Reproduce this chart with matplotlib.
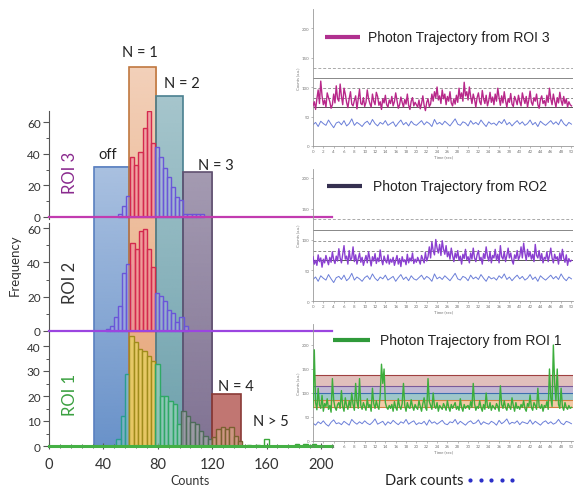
import numpy as np
import matplotlib
matplotlib.use('Agg')
import matplotlib.pyplot as plt
from matplotlib.lines import Line2D
from matplotlib.patches import Rectangle
from matplotlib.colors import to_rgb

plt.rcParams['font.family'] = ['Lato', 'DejaVu Sans']

# ---------------- data ----------------
band_labels = ['off', 'N = 1', 'N = 2', 'N = 3', 'N = 4']
band_edges = [33, 58.5, 79, 98.5, 120, 141]          # counts
band_tops_roi3 = [31.6, 94.7, 76.4, 28.4]             # box heights (ROI 3 frequency units)
n4_top_roi1 = 21                                      # box height (ROI 1 frequency units)

roi3_start, roi3_width = 50.8, 3.0
roi3_freq = [2, 7, 13.5, 38, 33, 41, 56, 67, 47, 44, 38, 31, 25, 19, 12.5, 11, 2, 2, 2, 2, 2]
roi2_start, roi2_width = 41.9, 3.0
roi2_freq = [1, 3, 8, 14.5, 34, 39, 51.5, 47.5, 58, 59.5, 47.5, 37, 22, 20.5, 17.5, 12.5,
             10.5, 5, 8, 3]
roi1_start, roi1_width = 49.4, 3.2
roi1_freq = [3, 12, 29, 44, 41.5, 39, 38, 36, 34, 33, 20, 20, 18, 17, 9, 14, 12, 9.5, 9, 6,
             4, 3, 3.5, 7, 7.5, 7, 7.5, 4, 2, 0, 0.5, 0, 0.5, 0, 3, 0, 0, 0, 0, 0, 0, 1, 0,
             1, 0, 1, 0, 0]

x_ticks = [0, 40, 80, 120, 160, 200]

# trajectories (signal sampled every 0.25 s, dark counts every 0.5 s)
roi3_traj = [68,75,62,80,95,72,110,85,70,78,66,90,82,75,64,70,88,73,102,80,
             76,105,84,70,98,88,74,65,80,92,71,68,77,85,63,79,96,72,70,82,
             67,74,95,80,72,66,88,76,70,91,84,69,75,62,80,73,86,70,66,78,
             72,84,68,75,90,77,64,70,83,74,66,79,71,88,69,62,76,82,68,74,
             70,66,78,63,72,85,69,60,74,80,67,71,88,76,92,82,100,78,85,72,
             95,80,88,70,84,76,92,73,68,80,71,86,74,98,81,90,76,108,85,92,
             78,100,84,72,88,79,66,82,90,75,70,94,80,72,86,68,77,91,74,83,
             70,88,76,98,82,69,85,73,92,77,66,80,74,89,71,67,84,78,70,86,
             75,68,90,80,72,84,66,78,93,74,69,82,76,88,70,64,79,85,72,77,
             68,86,74,98,80,70,88,76,66,82,73,91,77,69,84,72,80,66,75,70,
             68]
roi3_dark = [36,40,33,42,38,35,44,37,31,39,41,36,43,34,38,46,35,40,37,33,
             39,42,36,45,38,34,40,37,43,35,38,41,33,39,44,36,40,34,42,37,
             35,39,43,36,41,38,33,45,37,40,36,42,38,34,40,46,37,35,41,39,
             34,43,37,40,36,44,38,33,41,37,39,35,42,38,45,36,40,34,39,43,
             37,41,35,38,44,36,40,33,42,38,35,39,43,37,41,36,45,38,34,40,
             37]
roi2_traj = [72,60,66,58,75,64,70,55,68,62,74,66,59,71,63,80,67,61,73,65,
             85,70,62,76,90,68,73,60,82,66,70,88,64,75,60,69,78,63,71,58,
             66,74,62,80,68,57,72,65,77,61,70,64,83,67,59,73,66,62,75,60,
             68,63,71,58,66,74,60,69,56,72,64,67,59,76,62,70,65,78,61,68,
             63,71,66,60,74,68,62,79,65,72,88,70,96,82,75,100,86,78,92,74,
             98,84,76,90,72,80,68,86,74,64,78,70,82,66,73,60,76,69,84,67,
             72,62,78,68,86,70,64,75,82,66,71,60,77,69,88,73,65,80,62,74,
             70,84,66,76,62,90,72,68,80,64,74,86,70,78,66,60,75,69,82,67,
             73,88,70,94,78,66,84,72,80,68,76,64,92,74,70,82,66,77,62,71,
             68,80,64,74,86,70,62,76,68,72,60,78,66,84,70,63,75,58,69,64,
             66]
roi2_dark = [35,39,32,41,37,34,43,36,30,38,40,35,42,33,37,45,34,39,36,32,
             38,41,35,44,37,33,39,36,42,34,37,40,32,38,43,35,39,33,41,36,
             34,38,42,35,40,37,32,44,36,39,35,41,37,33,39,45,36,34,40,38,
             33,42,36,39,35,43,37,32,40,36,38,34,41,37,44,35,39,33,38,42,
             36,40,34,37,43,35,39,32,41,37,34,38,42,36,40,35,44,37,33,39,
             36]
roi1_traj = [70,190,80,65,110,75,68,95,62,78,72,88,66,74,60,130,85,70,64,76,
             80,68,105,72,62,90,74,66,84,70,100,76,64,120,82,68,130,74,66,80,
             72,64,88,70,76,62,110,78,68,84,72,66,95,160,120,150,80,70,66,74,
             68,76,62,82,70,64,88,72,66,78,120,74,62,80,70,68,86,72,64,76,
             70,66,84,72,62,78,90,70,64,130,82,74,66,100,72,68,80,62,74,70,
             66,78,72,64,84,70,62,76,68,74,80,66,72,64,88,70,62,76,68,72,
             74,66,82,70,120,78,64,72,68,84,70,62,76,66,100,72,68,80,64,74,
             70,66,78,72,62,115,76,68,84,70,64,78,72,66,90,74,62,80,68,72,
             66,76,70,84,68,62,78,72,96,70,64,80,74,66,110,72,68,76,62,74,
             70,82,66,150,90,72,200,120,84,150,76,68,110,72,64,80,70,66,74,68,
             70]
roi1_dark = [37,33,40,36,42,35,31,39,44,36,38,34,41,37,33,45,39,35,40,36,
             42,37,34,39,46,35,38,41,33,40,36,43,38,34,40,37,45,35,39,42,
             34,38,36,41,33,44,37,40,35,39,43,36,34,40,38,45,35,41,37,33,
             39,42,36,38,44,34,40,37,35,41,38,33,43,36,40,46,35,39,37,42,
             34,40,38,36,44,35,41,37,33,39,42,36,40,35,38,45,37,34,41,39,
             36]

traj_levels = [133, 115, 98, 81, 66]
traj_level_styles = ['--', '-', '--', '--', '-']
roi1_state_bounds = [70, 85, 100, 115, 137]

# ---------------- layout ----------------
W, H = 578, 489
fig = plt.figure(figsize=(W / 100, H / 100), dpi=100)


def fx(px):
    return px / W


def fy(py):
    return 1 - py / H


X0, XMAX, PXC = 49, 208, 1.36
X1 = X0 + XMAX * PXC


def hist_axes(base_px, unit_px, ymin, ymax):
    bottom_px = base_px - ymin * unit_px
    top_px = base_px - ymax * unit_px
    ax = fig.add_axes([fx(X0), fy(bottom_px), (X1 - X0) / W, (bottom_px - top_px) / H])
    ax.set_xlim(0, XMAX)
    ax.set_ylim(ymin, ymax)
    ax.patch.set_alpha(0)
    return ax


S3 = (218 - 123) / 60.0
# background axes for the state boxes, in ROI 3 units
axb = hist_axes(218, S3, -(447 - 218) / S3, (218 - 30) / S3)
axb.axis('off')
ybot = -(447 - 218) / S3
band_base = ['#4f7fc0', '#e08a50', '#4a8a98', '#6a5a80']
band_edge = ['#5a80c0', '#c07840', '#4a8090', '#605070']
alpha_top = [0.36, 0.40, 0.47, 0.52]
alpha_bot = [0.85, 0.80, 0.80, 0.85]
ytop_ref = max(band_tops_roi3)
for i in range(4):
    x0, x1 = band_edges[i], band_edges[i + 1]
    top = band_tops_roi3[i]
    n = 120
    ys = np.linspace(top, ybot, n)
    a = alpha_bot[i] + (alpha_top[i] - alpha_bot[i]) * (ys - ybot) / (ytop_ref - ybot)
    img = np.zeros((n, 1, 4))
    img[..., :3] = to_rgb(band_base[i])
    img[:, 0, 3] = a
    axb.imshow(img, extent=[x0, x1, ybot, top], aspect='auto', origin='upper',
               zorder=1, interpolation='bilinear')
    axb.add_patch(Rectangle((x0, ybot), x1 - x0, top - ybot, fill=False,
                            edgecolor=band_edge[i], lw=1.2, zorder=2))
axb.set_xlim(0, XMAX)
axb.set_ylim(ybot, (218 - 30) / S3)

ax3 = hist_axes(218, S3, -1, 67)
ax2 = hist_axes(332, (332 - 229) / 60.0, -1, 63)
ax1 = hist_axes(447, 2.5, 0, 45)


def band_of(c):
    for i in range(len(band_edges) - 1):
        if band_edges[i] <= c < band_edges[i + 1]:
            return i
    return -1


def rgba(c, a):
    r, g, b = to_rgb(c)
    return (r, g, b, a)


def draw_hist(ax, start, width, freq, palette):
    lefts = start + width * np.arange(len(freq))
    for l, h in zip(lefts, freq):
        fc, ec = palette.get(band_of(l + width / 2), palette['other'])
        ax.bar(l, h, width=width, align='edge', color=fc,
               edgecolor=ec, linewidth=1.0, zorder=3)


pal32 = {1: (rgba('#f27a9c', 0.45), '#d42a4e'),
         'other': (rgba('#b8b0f0', 0.35), '#6a56d8')}
pal1 = {0: (rgba('#8fd0c0', 0.45), '#2a9d8f'),
        1: (rgba('#e6d060', 0.8), '#a08c1c'),
        2: (rgba('#a8e6c0', 0.5), '#2fa866'),
        3: (rgba('#b8c8b8', 0.45), '#4e6b5a'),
        4: (rgba('#d8b090', 0.55), '#7a6030'),
        'other': (rgba('#ffffff', 0.0), '#3aa83a')}

draw_hist(ax3, roi3_start, roi3_width, roi3_freq, pal32)
draw_hist(ax2, roi2_start, roi2_width, roi2_freq, pal32)
# N = 4 box in ROI 1 units
ax1.add_patch(Rectangle((band_edges[4], 0), band_edges[5] - band_edges[4], n4_top_roi1,
                        facecolor=rgba('#b0504a', 0.78), edgecolor='#8a3a36', lw=1.2, zorder=2))
draw_hist(ax1, roi1_start, roi1_width, roi1_freq, pal1)

for ax, col, lw in [(ax3, '#c23bb0', 1.6), (ax2, '#9b45e0', 1.6), (ax1, '#45b045', 2.2)]:
    ax.axhline(0, color=col, lw=lw, zorder=6, clip_on=False)

for ax, maj, mn in [(ax3, [0, 20, 40, 60], [10, 30, 50]),
                    (ax2, [0, 20, 40, 60], [10, 30, 50]),
                    (ax1, [0, 10, 20, 30, 40], [5, 15, 25, 35])]:
    for s in ['top', 'right']:
        ax.spines[s].set_visible(False)
    ax.spines['left'].set_color('#555555')
    ax.spines['left'].set_linewidth(0.8)
    ax.set_yticks(maj)
    ax.set_yticks(mn, minor=True)
    ax.tick_params(axis='y', which='major', labelsize=8.5, length=4, width=0.8,
                   colors='#555555', labelcolor='#333333', pad=2)
    ax.tick_params(axis='y', which='minor', length=2.5, width=0.7, colors='#555555')
for ax in (ax3, ax2):
    ax.spines['bottom'].set_visible(False)
    ax.set_xticks([])
ax1.spines['bottom'].set_color('#555555')
ax1.set_xticks(x_ticks)
ax1.set_xticks(np.arange(0, 209, 8), minor=True)
ax1.tick_params(axis='x', which='major', labelsize=10.5, length=4, width=0.8,
                colors='#555555', labelcolor='#333333', pad=6, direction='inout')
ax1.tick_params(axis='x', which='minor', length=3, width=0.7, colors='#555555',
                direction='inout')
ax1.set_xlabel('Counts', fontsize=9, color='#333333', labelpad=2)

fig.text(fx(15), fy(265), 'Frequency', rotation=90, ha='center', va='center',
         fontsize=9.5, color='#333333')
fig.text(fx(70), fy(173), 'ROI 3', rotation=90, ha='center', va='center',
         fontsize=12, color='#8a2a8e')
fig.text(fx(70), fy(283), 'ROI 2', rotation=90, ha='center', va='center',
         fontsize=12, color='#333333')
fig.text(fx(70), fy(395), 'ROI 1', rotation=90, ha='center', va='center',
         fontsize=12, color='#3aa040')

for lab, (px, py) in zip(band_labels + ['N > 5'],
                         [(108, 155), (140, 53), (182, 84), (216, 166), (236, 387), (271, 422)]):
    fig.text(fx(px), fy(py), lab, ha='center', va='center', fontsize=10.5, color='#222222')

# ---------------- trajectory panels ----------------
PL, PR = 313, 573


def traj_axes(top_px, zero_px, unit_px):
    ax = fig.add_axes([fx(PL), fy(zero_px), (PR - PL) / W, (zero_px - top_px) / H])
    ax.set_xlim(0, 50.3)
    ax.set_ylim(0, (zero_px - top_px) / unit_px)
    ax.patch.set_alpha(0)
    for s in ['top', 'right']:
        ax.spines[s].set_visible(False)
    for s in ['left', 'bottom']:
        ax.spines[s].set_color('#999999')
        ax.spines[s].set_linewidth(0.6)
    ax.set_xticks(np.arange(0, 51, 2))
    ax.set_yticks([0, 50, 100, 150, 200])
    ax.tick_params(labelsize=3.2, length=1.5, width=0.4, colors='#888888',
                   labelcolor='#777777', pad=1)
    ax.set_xlabel('Time (sec)', fontsize=3.2, color='#777777', labelpad=1)
    ax.set_ylabel('Counts (a.u.)', fontsize=3, color='#777777', labelpad=1)
    return ax


p3 = traj_axes(10, 147, 29.5 / 50)
p2 = traj_axes(170, 302, 30.75 / 50)
p1 = traj_axes(325, 442, 24 / 50)

level_colors = ['#aaaaaa', '#888888', '#999999', '#888888', '#555555']
for ax in (p3, p2):
    for lv, ls, c in zip(traj_levels, traj_level_styles, level_colors):
        if ls == '--':
            ax.axhline(lv, color=c, lw=0.7, zorder=1, dashes=(3, 2))
        else:
            ax.axhline(lv, color=c, lw=0.7, zorder=1)

state_cols = ['#e8a060', '#4f9aa0', '#8f7fb0', '#c98b86']
state_edges = ['#d08040', '#3c6fb0', '#7a5a9a', '#a04040']
for i in range(4):
    p1.axhspan(roi1_state_bounds[i], roi1_state_bounds[i + 1], color=state_cols[i],
               alpha=0.55, lw=0, zorder=1)
    p1.axhline(roi1_state_bounds[i + 1], color=state_edges[i], lw=0.8, zorder=1)
p1.axhline(roi1_state_bounds[0], color=state_edges[0], lw=0.8, zorder=1)

for ax, sig, dark, col in [(p3, roi3_traj, roi3_dark, '#b8288a'),
                           (p2, roi2_traj, roi2_dark, '#8a3fd0'),
                           (p1, roi1_traj, roi1_dark, '#3cae3c')]:
    ax.plot(np.linspace(0, 50, len(dark)), dark, color='#6b7fd8', lw=0.7, zorder=2)
    ax.plot(np.linspace(0, 50, len(sig)), sig, color=col, lw=1.0, zorder=3)

legend_items = [((325, 360, 38), 368, '#b0308f', 'Photon Trajectory from ROI 3'),
                ((327, 362, 187), 373, '#353050', 'Photon Trajectory from RO2'),
                ((333, 370, 341), 380, '#2f9a3a', 'Photon Trajectory from ROI 1')]
for (xa, xb, yy), tx, c, lab in legend_items:
    fig.add_artist(Line2D([fx(xa), fx(xb)], [fy(yy), fy(yy)], color=c, lw=3,
                          solid_capstyle='butt'))
    fig.text(fx(tx), fy(yy), lab, ha='left', va='center', fontsize=10,
             family=['Liberation Sans', 'DejaVu Sans'], color='#222222')

fig.text(fx(385), fy(481), 'Dark counts', ha='left', va='center', fontsize=10.5,
         color='#222222')
fig.add_artist(Line2D([fx(p) for p in np.linspace(470, 512, 5)], [fy(481)] * 5,
                      ls='none', marker='o', markersize=2, color='#2b2fc8'))

fig.savefig('out.png', dpi=100)
